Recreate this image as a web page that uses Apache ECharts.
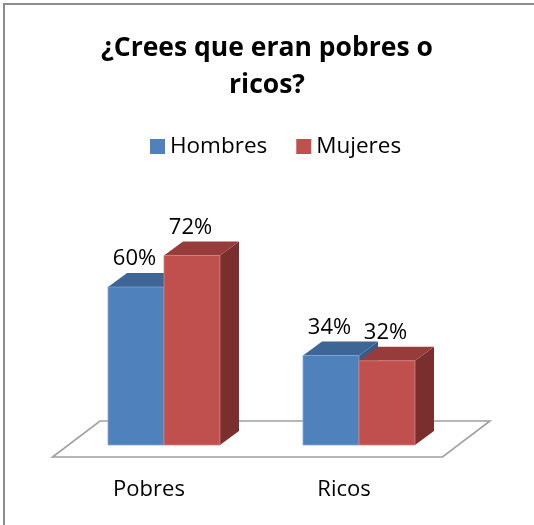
<!DOCTYPE html>
<html>
<head>
<meta charset="utf-8">
<script src="https://cdn.jsdelivr.net/npm/echarts@6/dist/echarts.min.js"></script>
<style>html,body{margin:0;padding:0;background:#fff}#c{width:534px;height:525px}</style>
</head>
<body>
<div id="c"></div>
<script>
var titleText = '¿Crees que eran pobres o\nricos?';
var categories = ['Pobres', 'Ricos'];
var seriesNames = ['Hombres', 'Mujeres'];
var hombres = [60, 34];
var mujeres = [72, 32];

var FONT = '"Open Sans", sans-serif';
var colors = {
  Hombres: { front: '#4F81BD', top: '#3D6595', side: '#375C89', edge: '#7FA3D3' },
  Mujeres: { front: '#C0504D', top: '#963D3B', side: '#7A2F2E', edge: '#D4807D' }
};

function barRender(name, idx) {
  return function (params, api) {
    var cat = api.value(0), v = api.value(1);
    var p = api.coord([cat, v]);
    var b = api.coord([cat, 0]);
    var bw = api.size([1, 0])[0] * 0.287;
    var dx = bw * 0.34, dy = bw * 0.25;
    var x0 = idx === 0 ? p[0] - bw : p[0];
    var x1 = x0 + bw;
    var yt = p[1], yb = b[1];
    var c = colors[name];
    return {
      type: 'group',
      children: [
        { type: 'polygon', shape: { points: [[x1, yt], [x1 + dx, yt - dy], [x1 + dx, yb - dy], [x1, yb]] },
          style: { fill: c.side } },
        { type: 'polygon', shape: { points: [[x0, yt], [x0 + dx, yt - dy], [x1 + dx, yt - dy], [x1, yt]] },
          style: { fill: c.top } },
        { type: 'rect', shape: { x: x0, y: yt, width: bw, height: yb - yt },
          style: { fill: c.front, stroke: c.edge, lineWidth: 0.8 } },
        { type: 'text', x: x0 + bw / 2 - 1.5, y: yt - 28,
          style: { text: v + '%', font: '22px ' + FONT, fill: '#000', align: 'center', verticalAlign: 'middle' } }
      ]
    };
  };
}

var chart = echarts.init(document.getElementById('c'), null, { renderer: 'canvas' });
chart.setOption({
  animation: false,
  title: {
    text: titleText, left: 'center', top: 30, padding: [0, 0, 0, 9],
    textStyle: { fontFamily: FONT, fontWeight: 'bold', fontSize: 26.5, lineHeight: 37, color: '#000' }
  },
  legend: {
    data: seriesNames, left: 150, top: 135, padding: 0, itemWidth: 15, itemHeight: 15, itemGap: 29,
    icon: 'rect',
    textStyle: { fontFamily: FONT, fontSize: 22.5, color: '#000' }
  },
  grid: { left: 66.5, right: 77.5, top: 181.7, bottom: 80 },
  xAxis: {
    type: 'category', data: categories,
    axisLine: { show: false }, axisTick: { show: false }, splitLine: { show: false },
    axisLabel: { fontFamily: FONT, fontSize: 22, color: '#000', margin: 34, lineHeight: 22, padding: [0, 30, 0, 0] }
  },
  yAxis: { type: 'value', min: 0, max: 100, show: false },
  graphic: [
    { type: 'line', shape: { x1: 4, y1: 3, x2: 4, y2: 525 }, style: { stroke: '#8C8C8C', lineWidth: 2 } },
    { type: 'line', shape: { x1: 3, y1: 4, x2: 534, y2: 4 }, style: { stroke: '#8C8C8C', lineWidth: 2 } }
  ],
  series: [
    {
      type: 'custom', name: 'floor', data: [[0, 0]], silent: true, z: 1,
      renderItem: function (params, api) {
        var cs = params.coordSys;
        var yb = api.coord([0, 0])[1];
        var xl = cs.x, xr = cs.x + cs.width;
        return {
          type: 'polygon',
          shape: { points: [[xl - 14, yb + 12], [xr - 14, yb + 12], [xr + 33.5, yb - 24], [xl + 33.5, yb - 24]] },
          style: { fill: '#fff', stroke: '#A0A0A0', lineWidth: 1.6 }
        };
      }
    },
    {
      type: 'custom', name: 'Hombres', z: 2, itemStyle: { color: colors.Hombres.front },
      data: hombres.map(function (v, i) { return [i, v]; }),
      encode: { x: 0, y: 1 },
      renderItem: barRender('Hombres', 0)
    },
    {
      type: 'custom', name: 'Mujeres', z: 3, itemStyle: { color: colors.Mujeres.front },
      data: mujeres.map(function (v, i) { return [i, v]; }),
      encode: { x: 0, y: 1 },
      renderItem: barRender('Mujeres', 1)
    }
  ]
});
</script>
</body>
</html>
